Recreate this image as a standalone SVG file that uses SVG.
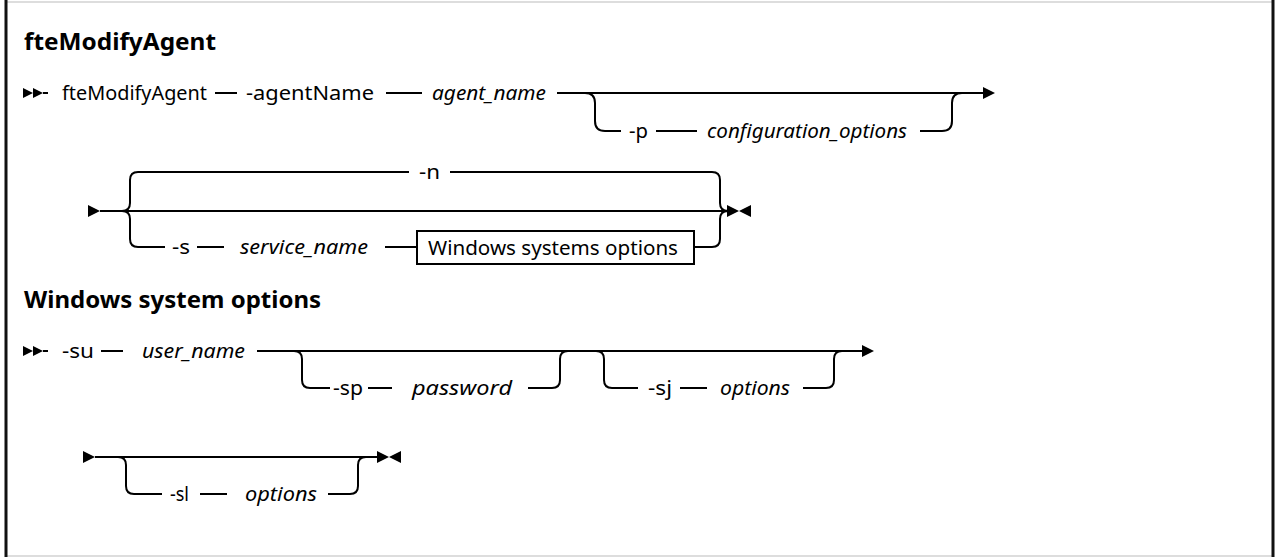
<svg xmlns="http://www.w3.org/2000/svg" width="1276" height="557" viewBox="0 0 1276 557">
<style>
.t{font-family:"Noto Sans","Liberation Sans",sans-serif;font-size:20.5px;fill:#000}
.i{font-style:italic}
.h{font-family:"Noto Sans","Liberation Sans",sans-serif;font-size:24px;font-weight:bold;fill:#000}
.l{fill:none;stroke:#000;stroke-width:2}
.a{fill:#000}
</style>
<rect x="0" y="0" width="1276" height="557" fill="#fff"/>
<line x1="6" y1="2" x2="1273" y2="2" stroke="#bbb" stroke-width="1"/>
<line x1="6" y1="556" x2="1273" y2="556" stroke="#bbb" stroke-width="1"/>
<line x1="6" y1="0" x2="6" y2="557" stroke="#111" stroke-width="3"/>
<line x1="1273" y1="0" x2="1273" y2="557" stroke="#111" stroke-width="3"/>

<text class="h" x="24" y="50" textLength="192" lengthAdjust="spacingAndGlyphs">fteModifyAgent</text>
<text class="h" x="24" y="308">Windows system options</text>

<g id="connectors">
<!-- row 1 -->
<polygon class="a" points="23,88 33,93 23,98"/>
<polygon class="a" points="33,88 43,93 33,98"/>
<path class="l" d="M43,93 H48 M215,93 H237 M386,93 H422 M557,93 H983"/>
<polygon class="a" points="983,87 995,93 983,99"/>
<path class="l" d="M585,93 Q595,93 595,103 V121 Q595,131 605,131 H621 M656,131 H697 M920,131 H942 Q952,131 952,121 V103 Q952,93 962,93"/>
<!-- row 2 -->
<polygon class="a" points="88,205 100,211 88,217"/>
<path class="l" d="M100,211 H725"/>
<path class="l" d="M122,211 Q130,211 130,203 V180 Q130,172 138,172 H409 M450,172 H712 Q720,172 720,180 V203 Q720,211 728,211"/>
<path class="l" d="M122,211 Q130,211 130,219 V239 Q130,247 138,247 H165 M197,247 H224 M385,247 H417 M694,247 H712 Q720,247 720,239 V219 Q720,211 728,211"/>
<polygon class="a" points="727,205 739,211 727,217"/>
<polygon class="a" points="751,205 739,211 751,217"/>
<!-- row 3 -->
<polygon class="a" points="23,346 33,351 23,356"/>
<polygon class="a" points="33,346 43,351 33,356"/>
<path class="l" d="M43,351 H48 M101,351 H123 M257,351 H862"/>
<polygon class="a" points="862,345 874,351 862,357"/>
<path class="l" d="M294,351 Q302,351 302,359 V380 Q302,388 310,388 H330 M368,388 H392 M528,388 H552 Q560,388 560,380 V359 Q560,351 568,351"/>
<path class="l" d="M596,351 Q604,351 604,359 V380 Q604,388 612,388 H638 M680,388 H707 M803,388 H826 Q834,388 834,380 V359 Q834,351 842,351"/>
<!-- row 4 -->
<polygon class="a" points="83,451 95,457 83,463"/>
<path class="l" d="M95,457 H377"/>
<path class="l" d="M118,457 Q126,457 126,465 V486 Q126,494 134,494 H162 M200,494 H227 M328,494 H350 Q358,494 358,486 V465 Q358,457 366,457"/>
<polygon class="a" points="377,451 389,457 377,463"/>
<polygon class="a" points="401,451 389,457 401,463"/>
</g>

<g id="n-cmd"><text class="t" x="62" y="100" textLength="145" lengthAdjust="spacingAndGlyphs">fteModifyAgent</text></g>
<g id="n-agentName"><text class="t" x="246" y="100" textLength="128" lengthAdjust="spacingAndGlyphs">-agentName</text></g>
<g id="n-agent_name"><text class="t i" x="432" y="100" textLength="114" lengthAdjust="spacingAndGlyphs">agent_name</text></g>
<g id="n-p"><text class="t" x="629" y="138" textLength="19" lengthAdjust="spacingAndGlyphs">-p</text></g>
<g id="n-config"><text class="t i" x="707" y="138" textLength="200" lengthAdjust="spacingAndGlyphs">configuration_options</text></g>
<g id="n-n"><text class="t" x="419" y="179" textLength="21" lengthAdjust="spacingAndGlyphs">-n</text></g>
<g id="n-s"><text class="t" x="172" y="254" textLength="18" lengthAdjust="spacingAndGlyphs">-s</text></g>
<g id="n-service"><text class="t i" x="240" y="254" textLength="128" lengthAdjust="spacingAndGlyphs">service_name</text></g>
<g id="n-winopts"><rect x="417" y="231" width="277" height="33" fill="#fff" stroke="#000" stroke-width="2"/><text class="t" x="428" y="255" textLength="250" lengthAdjust="spacingAndGlyphs">Windows systems options</text></g>
<g id="n-su"><text class="t" x="62" y="358" textLength="32" lengthAdjust="spacingAndGlyphs">-su</text></g>
<g id="n-user"><text class="t i" x="142" y="358" textLength="103" lengthAdjust="spacingAndGlyphs">user_name</text></g>
<g id="n-sp"><text class="t" x="333" y="395" textLength="30" lengthAdjust="spacingAndGlyphs">-sp</text></g>
<g id="n-password"><text class="t i" x="412" y="395" textLength="100" lengthAdjust="spacingAndGlyphs">password</text></g>
<g id="n-sj"><text class="t" x="648" y="395" textLength="24" lengthAdjust="spacingAndGlyphs">-sj</text></g>
<g id="n-sjopt"><text class="t i" x="720" y="395" textLength="70" lengthAdjust="spacingAndGlyphs">options</text></g>
<g id="n-sl"><text class="t" x="170" y="501" textLength="19" lengthAdjust="spacingAndGlyphs">-sl</text></g>
<g id="n-slopt"><text class="t i" x="245" y="501" textLength="72" lengthAdjust="spacingAndGlyphs">options</text></g>
</svg>
